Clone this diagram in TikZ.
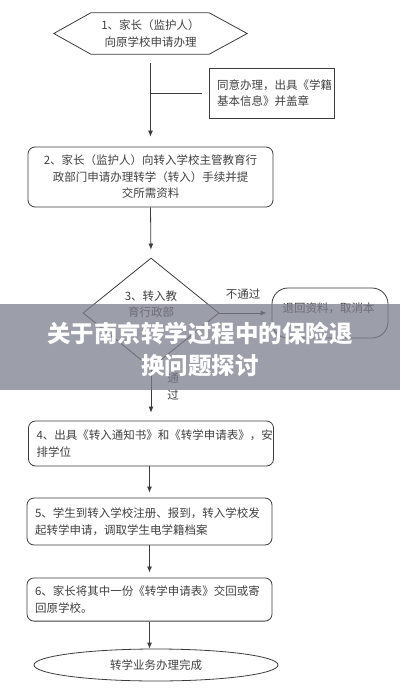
\documentclass[tikz,border=0pt]{standalone}
\usepackage{fontspec}
\setmainfont{Noto Sans CJK SC}
\usetikzlibrary{shapes.geometric,arrows.meta}

\newcommand{\testo}{\fontsize{11.5}{16.5}\selectfont}
\newcommand{\titolo}{\fontsize{23.5}{32}\selectfont\bfseries}

\begin{document}
\begin{tikzpicture}[x=1pt,y=-1pt,
  edge/.style={draw=lineDark, line width=0.8pt},
  flow/.style={edge, -{Latex[length=6pt,width=5pt]}},
  box/.style={edge, rounded corners=7pt, minimum width=245pt, inner sep=0pt, font=\testo, text=textDark},
  txt/.style={font=\testo, text=textDark, inner sep=0pt}]

% Colori
\definecolor{lineDark}{HTML}{3C3C3C}
\definecolor{textDark}{HTML}{404040}
\definecolor{bandGray}{HTML}{7B7D8C}

% Area del disegno
\useasboundingbox (0,0) rectangle (400,695);

% Passo 1 (esagono)
\node[txt, align=center, minimum width=193pt, minimum height=41pt] (apply) at (150.5,33.5) {1、家长（监护人）\\向原学校申请办理};
\draw[edge] (apply.west) -- ([xshift=37pt]apply.north west) -- ([xshift=-38pt]apply.north east)
  -- (apply.east) -- ([xshift=-38pt]apply.south east) -- ([xshift=37pt]apply.south west) -- cycle;

% Nota del passo 1
\node[edge, txt, align=left, text width=109pt, inner sep=8pt, minimum height=50pt] (consent) at (271.5,93) {同意办理，出具《学籍\\基本信息》并盖章};

% Passo 2
\node[box, align=center, minimum height=60pt] (request) at (150.5,177) {2、家长（监护人）向转入学校主管教育行\\政部门申请办理转学（转入）手续并提\\交所需资料};

% Passo 3 (rombo)
\node[diamond, edge, minimum width=136pt, minimum height=110pt, inner sep=0pt] (audit) at (151,313) {};
\node[txt, align=center] (auditText) at (151,304) {3、转入教\\育行政部};

% Esito negativo
\node[edge, rounded corners=16pt, minimum width=116pt, minimum height=50pt] (reject) at (330,313) {};
\node[txt] (rejectText) at (328.5,308) {退回资料，取消本};
\node[txt] (noLabel) at (243,294) {不通过};
\node[txt, align=center] (yesLabel) at (173,386.5) {通\\过};

% Passi 4, 5, 6
\node[box, align=left, text width=229pt, inner sep=8pt, minimum height=45pt] (admit) at (151,443.5) {4、出具《转入通知书》和《转学申请表》，安\\排学位};
\node[box, align=left, text width=229pt, inner sep=8pt, minimum height=47pt] (enrol) at (149.5,521.5) {5、学生到转入学校注册、报到，转入学校发\\起转学申请，调取学生电学籍档案};
\node[box, align=left, text width=229pt, inner sep=8pt, minimum height=43pt] (returnForm) at (149.5,599.5) {6、家长将其中一份《转学申请表》交回或寄\\回原学校。};

% Fine
\node[ellipse, edge, txt, minimum width=244pt, minimum height=32pt] (done) at (156,665) {转学业务办理完成};

% Frecce
\draw[flow, shorten <=9pt, shorten >=10pt] (apply.south) -- (request.north);
\coordinate (tap) at (apply.south |- consent.west);
\draw[edge] (tap) -- ([xshift=-7pt]consent.west);
\draw[flow, shorten >=8pt] (request.south) -- (audit.north);
\draw[flow, shorten >=5pt] (audit.east) -- (reject.west);
\draw[flow, shorten >=8pt] (audit.south) -- (audit.south |- admit.north);
\draw[flow, shorten >=5pt] (admit.south -| enrol.south) -- (enrol.north);
\draw[flow, shorten >=5pt] (enrol.south) -- (returnForm.north);
\draw[flow] (returnForm.south) -- (returnForm.south |- done.north);

% Fascia del titolo
\fill[bandGray, opacity=0.75] (0,304) rectangle (400,390);
\node[font=\titolo, text=white, align=center, inner sep=0pt] (title) at (200,349) {关于南京转学过程中的保险退\\换问题探讨};

\end{tikzpicture}
\end{document}
